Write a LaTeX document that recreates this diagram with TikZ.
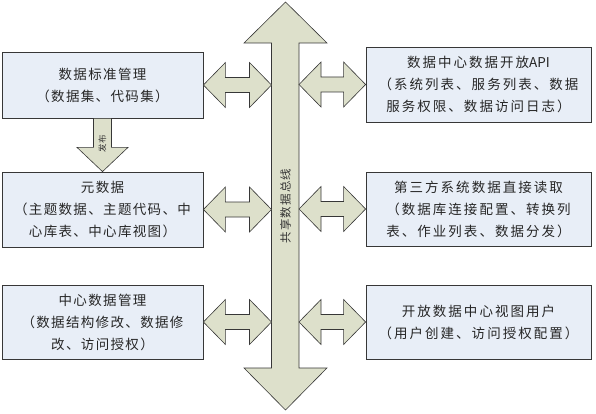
\documentclass[tikz,border=0pt]{standalone}
\usepackage{fontspec}
\newfontfamily\cjk[LetterSpace=10]{Noto Sans CJK SC}
\newfontfamily\cjkwide[LetterSpace=15]{Noto Sans CJK SC}
\newfontfamily\cjkplain{Noto Sans CJK SC}
\usetikzlibrary{shadows,calc}
\definecolor{boxfill}{RGB}{232,238,247}
\definecolor{arrfill}{RGB}{221,224,203}
\definecolor{edgec}{RGB}{55,55,55}
\newcommand\myDbl[2]{\path[arr] (#1) -- ++(22,-22.5) -- ++(0,15) -- ($(#2)+(-22,-7.5)$) -- ++(0,-15) -- (#2) -- ++(-22,22.5) -- ++(0,-15) -- ($(#1)+(22,7.5)$) -- ++(0,15) -- cycle;}
\begin{document}
\begin{tikzpicture}[x=1pt,y=-1pt,
  box/.style={draw=edgec, line width=0.8pt, fill=boxfill, align=center, inner sep=0pt, text=black!85,
    drop shadow={shadow xshift=0.9pt, shadow yshift=-0.9pt, fill=black!65, opacity=1}},
  lbox/.style={box, minimum width=201pt, font=\cjk\fontsize{13.5}{22}\selectfont},
  rbox/.style={box, minimum width=225pt, font=\cjkwide\fontsize{13.5}{22}\selectfont},
  arr/.style={draw=edgec, line width=0.6pt, fill=arrfill, line join=miter},
  lbl/.style={text=black!80, inner sep=0pt}]
\useasboundingbox (0,0) rectangle (596,414);

% bus
\coordinate (busL) at (271.5,0);
\coordinate (busR) at (299,0);
\path[arr] (285.5,2) -- (327,43) -- (299,43) -- (299,368) -- (327,368) -- (285.5,410)
  -- (244,368) -- (271.5,368) -- (271.5,43) -- (244,43) -- cycle;
\node[lbl, rotate=90, font=\cjk\fontsize{11.5}{13}\selectfont] (bus) at (285.5,206) {共享数据总线};

% boxes
\node[lbox, minimum height=66pt] (L1) at (102.5,85) {数据标准管理\\（数据集、代码集）};
\node[lbox, minimum height=75pt] (L2) at (102.5,209.5) {元数据\\（主题数据、主题代码、中\\心库表、中心库视图）};
\node[lbox, minimum height=74pt] (L3) at (102.5,322) {中心数据管理\\（数据结构修改、数据修\\改、访问授权）};
\node[rbox, minimum height=75pt] (R1) at (478.5,84.5) {数据中心数据开放{\cjkplain API}\\（系统列表、服务列表、数据\\服务权限、数据访问日志）};
\node[rbox, minimum height=74pt] (R2) at (478.5,209) {第三方系统数据直接读取\\（数据库连接配置、转换列\\表、作业列表、数据分发）};
\node[rbox, minimum height=74pt] (R3) at (478.5,322) {开放数据中心视图用户\\（用户创建、访问授权配置）};

% double arrows
\coordinate (a1) at (L1.east -| busL);
\coordinate (a2) at (L2.east -| busL);
\coordinate (a3) at (L3.east -| busL);
\coordinate (b1) at (R1.west -| busR);
\coordinate (b2) at (R2.west -| busR);
\coordinate (b3) at (R3.west -| busR);
\myDbl{L1.east}{a1}
\myDbl{L2.east}{a2}
\myDbl{L3.east}{a3}
\myDbl{b1}{R1.west}
\myDbl{b2}{R2.west}
\myDbl{b3}{R3.west}

% publish arrow
\path[arr] ($(L1.south)+(-9,0)$) -- ++(0,29) -- ++(-16.5,0) -- (L2.north)
  -- ($(L1.south)+(25.5,29)$) -- ++(-16.5,0) -- ($(L1.south)+(9,0)$) -- cycle;
\node[lbl, rotate=90, font=\cjk\fontsize{8.5}{10}\selectfont] (pub) at (102.5,143.5) {发布};
\end{tikzpicture}
\end{document}
